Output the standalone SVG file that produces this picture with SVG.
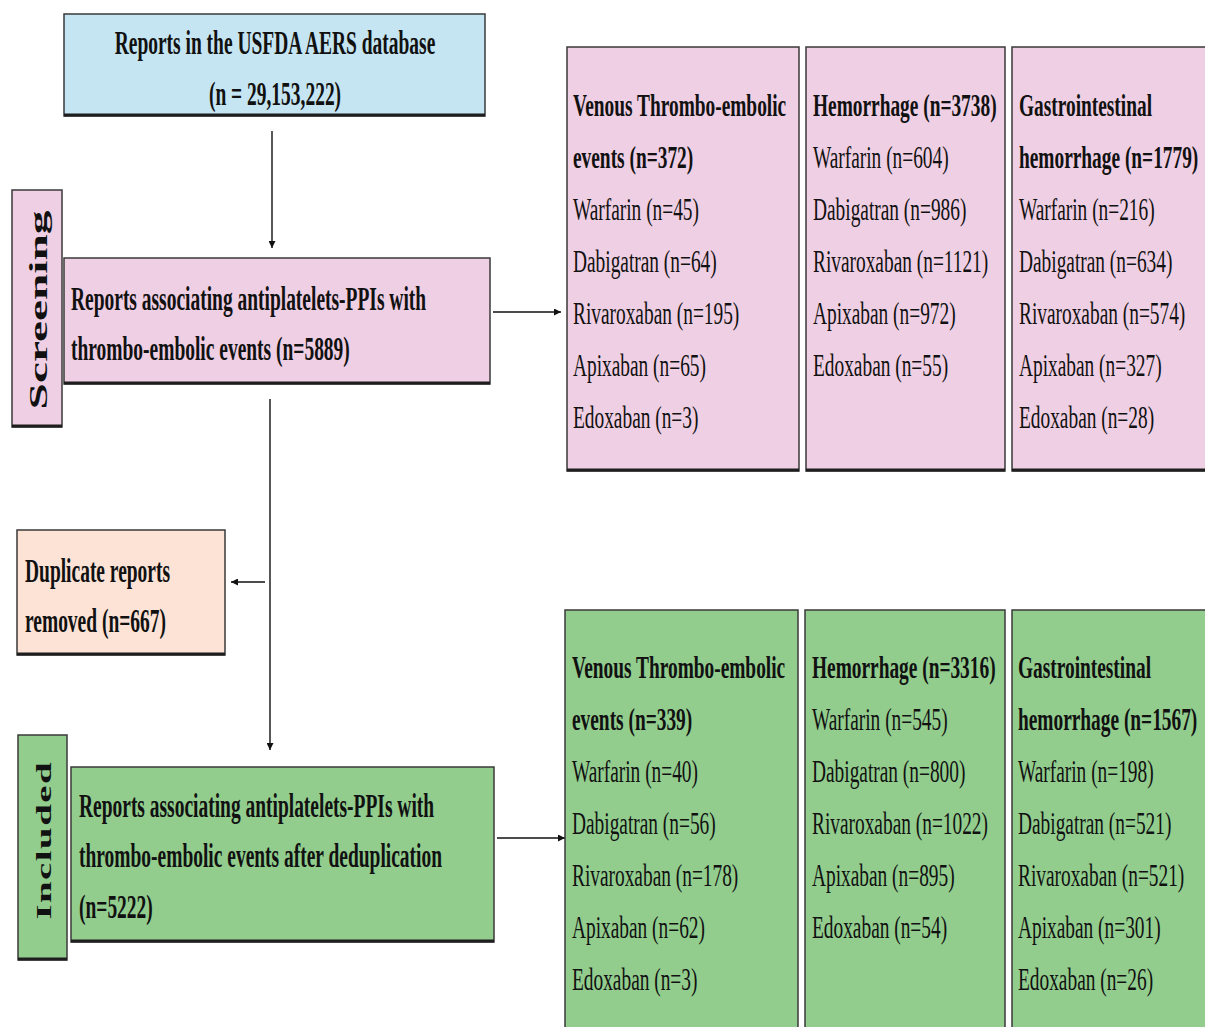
<svg xmlns="http://www.w3.org/2000/svg" width="1205" height="1027" viewBox="0 0 1205 1027">
<defs>
<style>
.box{stroke:#3a3a3a;stroke-width:1.5}
.sh{stroke:#1e1e1e;stroke-width:3}
.blue{fill:#c5e5f2}
.pink{fill:#efcfe3}
.peach{fill:#fce3d6}
.green{fill:#92cd8e}
.t{font-family:"Liberation Serif","Times New Roman",serif;fill:#111}
.b{font-weight:bold}
.lt{font-size:33px}
.rt{font-size:31px}
.conn{stroke:#111;stroke-width:1.4;fill:none}
</style>
<marker id="ah" viewBox="0 0 10 10" refX="10" refY="5" markerWidth="7" markerHeight="7" markerUnits="userSpaceOnUse" orient="auto">
<path d="M0,0 L10,5 L0,10 z" fill="#111"/>
</marker>
</defs>
<rect width="1205" height="1027" fill="#ffffff"/>

<g id="connectors">
<line class="conn" x1="272" y1="131" x2="272" y2="248" marker-end="url(#ah)"/>
<line class="conn" x1="270" y1="399" x2="270" y2="750" marker-end="url(#ah)"/>
<line class="conn" x1="265" y1="582" x2="231" y2="582" marker-end="url(#ah)"/>
<line class="conn" x1="493" y1="312" x2="561" y2="312" marker-end="url(#ah)"/>
<line class="conn" x1="497" y1="838" x2="565" y2="838" marker-end="url(#ah)"/>
</g>

<g id="aers">
<rect class="box blue" x="64" y="14" width="421" height="102"/>
<line class="sh" x1="64" y1="115" x2="485" y2="115" stroke-width="2"/>
<g transform="translate(275,0) scale(0.59,1)">
<text class="t b lt" x="0" y="54" text-anchor="middle">Reports in the USFDA AERS database</text>
<text class="t b lt" x="0" y="105" text-anchor="middle">(n = 29,153,222)</text>
</g>
</g>

<g id="screening-label">
<rect class="box pink" x="12" y="190" width="50" height="237"/>
<line class="sh" x1="12" y1="426" x2="62" y2="426" stroke-width="2"/>
<text class="t b" font-size="26" transform="translate(47,310) rotate(-90) scale(1.82,1)" x="0" y="0" text-anchor="middle">Screening</text>
</g>

<g id="screening">
<rect class="box pink" x="64" y="258" width="426" height="126"/>
<line class="sh" x1="64" y1="383" x2="490" y2="383" stroke-width="2"/>
<g transform="translate(71,0) scale(0.59,1)">
<text class="t b lt" x="0" y="310">Reports associating antiplatelets-PPIs with</text>
<text class="t b lt" x="0" y="360">thrombo-embolic events (n=5889)</text>
</g>
</g>

<g id="vte-screen">
<rect class="box pink" x="567" y="47" width="232" height="424"/>
<line class="sh" x1="567" y1="470" x2="799" y2="470"/>
<g transform="translate(573,0) scale(0.625,1)">
<text class="t b rt" x="0" y="116">Venous Thrombo-embolic</text>
<text class="t b rt" x="0" y="168">events (n=372)</text>
<text class="t rt" x="0" y="220">Warfarin (n=45)</text>
<text class="t rt" x="0" y="272">Dabigatran (n=64)</text>
<text class="t rt" x="0" y="324">Rivaroxaban (n=195)</text>
<text class="t rt" x="0" y="376">Apixaban (n=65)</text>
<text class="t rt" x="0" y="428">Edoxaban (n=3)</text>
</g>
</g>

<g id="hem-screen">
<rect class="box pink" x="806" y="47" width="199" height="424"/>
<line class="sh" x1="806" y1="470" x2="1005" y2="470"/>
<g transform="translate(813,0) scale(0.625,1)">
<text class="t b rt" x="0" y="116">Hemorrhage (n=3738)</text>
<text class="t rt" x="0" y="168">Warfarin (n=604)</text>
<text class="t rt" x="0" y="220">Dabigatran (n=986)</text>
<text class="t rt" x="0" y="272">Rivaroxaban (n=1121)</text>
<text class="t rt" x="0" y="324">Apixaban (n=972)</text>
<text class="t rt" x="0" y="376">Edoxaban (n=55)</text>
</g>
</g>

<g id="gi-screen">
<rect class="box pink" x="1012" y="47" width="200" height="424"/>
<line class="sh" x1="1012" y1="470" x2="1205" y2="470"/>
<g transform="translate(1019,0) scale(0.625,1)">
<text class="t b rt" x="0" y="116">Gastrointestinal</text>
<text class="t b rt" x="0" y="168">hemorrhage (n=1779)</text>
<text class="t rt" x="0" y="220">Warfarin (n=216)</text>
<text class="t rt" x="0" y="272">Dabigatran (n=634)</text>
<text class="t rt" x="0" y="324">Rivaroxaban (n=574)</text>
<text class="t rt" x="0" y="376">Apixaban (n=327)</text>
<text class="t rt" x="0" y="428">Edoxaban (n=28)</text>
</g>
</g>

<g id="duplicates">
<rect class="box peach" x="17" y="530" width="208" height="125"/>
<line class="sh" x1="17" y1="654" x2="225" y2="654" stroke-width="2"/>
<g transform="translate(25,0) scale(0.59,1)">
<text class="t b lt" x="0" y="582">Duplicate reports</text>
<text class="t b lt" x="0" y="632">removed (n=667)</text>
</g>
</g>

<g id="included-label">
<rect class="box green" x="18" y="735" width="49" height="225"/>
<line class="sh" x1="18" y1="959" x2="67" y2="959" stroke-width="2"/>
<text class="t b" font-size="21" transform="translate(51,841) rotate(-90) scale(1.85,1)" x="0" y="0" text-anchor="middle" textLength="85">Included</text>
</g>

<g id="included">
<rect class="box green" x="71" y="767" width="423" height="175"/>
<line class="sh" x1="71" y1="941" x2="494" y2="941"/>
<g transform="translate(79,0) scale(0.59,1)">
<text class="t b lt" x="0" y="817">Reports associating antiplatelets-PPIs with</text>
<text class="t b lt" x="0" y="867">thrombo-embolic events after deduplication</text>
<text class="t b lt" x="0" y="918">(n=5222)</text>
</g>
</g>

<g id="vte-included">
<rect class="box green" x="565" y="610" width="233" height="430"/>
<g transform="translate(572,0) scale(0.625,1)">
<text class="t b rt" x="0" y="678">Venous Thrombo-embolic</text>
<text class="t b rt" x="0" y="730">events (n=339)</text>
<text class="t rt" x="0" y="782">Warfarin (n=40)</text>
<text class="t rt" x="0" y="834">Dabigatran (n=56)</text>
<text class="t rt" x="0" y="886">Rivaroxaban (n=178)</text>
<text class="t rt" x="0" y="938">Apixaban (n=62)</text>
<text class="t rt" x="0" y="990">Edoxaban (n=3)</text>
</g>
</g>

<g id="hem-included">
<rect class="box green" x="805" y="610" width="200" height="430"/>
<g transform="translate(812,0) scale(0.625,1)">
<text class="t b rt" x="0" y="678">Hemorrhage (n=3316)</text>
<text class="t rt" x="0" y="730">Warfarin (n=545)</text>
<text class="t rt" x="0" y="782">Dabigatran (n=800)</text>
<text class="t rt" x="0" y="834">Rivaroxaban (n=1022)</text>
<text class="t rt" x="0" y="886">Apixaban (n=895)</text>
<text class="t rt" x="0" y="938">Edoxaban (n=54)</text>
</g>
</g>

<g id="gi-included">
<rect class="box green" x="1012" y="610" width="200" height="430"/>
<g transform="translate(1018,0) scale(0.625,1)">
<text class="t b rt" x="0" y="678">Gastrointestinal</text>
<text class="t b rt" x="0" y="730">hemorrhage (n=1567)</text>
<text class="t rt" x="0" y="782">Warfarin (n=198)</text>
<text class="t rt" x="0" y="834">Dabigatran (n=521)</text>
<text class="t rt" x="0" y="886">Rivaroxaban (n=521)</text>
<text class="t rt" x="0" y="938">Apixaban (n=301)</text>
<text class="t rt" x="0" y="990">Edoxaban (n=26)</text>
</g>
</g>
</svg>
